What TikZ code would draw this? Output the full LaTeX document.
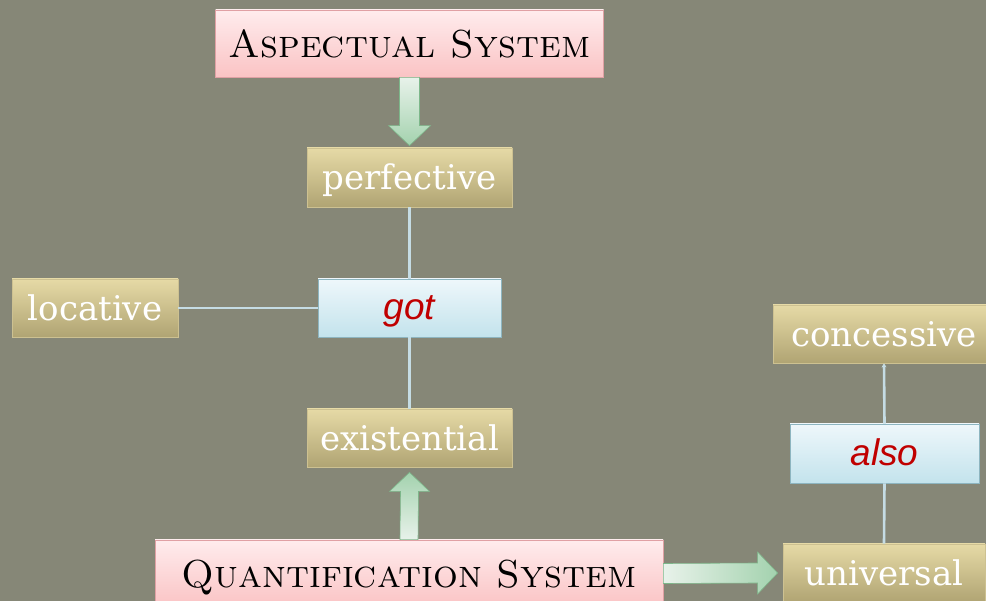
\documentclass[tikz,border=0pt]{standalone}
\usepackage{fontspec}
\usepackage{tikz}
\usetikzlibrary{arrows.meta,positioning,calc}
\newfontfamily\boxfont{DejaVu Serif}
\newfontfamily\keyfont{Liberation Sans}
\definecolor{bg}{RGB}{134,135,119}
\definecolor{pinktop}{RGB}{255,236,237}
\definecolor{pinkbot}{RGB}{250,195,196}
\definecolor{pinkedge}{RGB}{224,160,164}
\definecolor{tantop}{RGB}{230,218,166}
\definecolor{tanbot}{RGB}{176,164,115}
\definecolor{tanedge}{RGB}{205,193,145}
\definecolor{bluetop}{RGB}{238,247,251}
\definecolor{bluebot}{RGB}{195,227,236}
\definecolor{blueedge}{RGB}{141,181,192}
\definecolor{linkblue}{RGB}{197,220,228}
\definecolor{greenlight}{RGB}{232,242,234}
\definecolor{greendark}{RGB}{163,210,174}
\definecolor{greenedge}{RGB}{125,183,138}
\definecolor{keyred}{RGB}{192,0,0}

\tikzset{
  sysbox/.style={draw=pinkedge,line width=0.8pt,top color=pinktop,bottom color=pinkbot,
    font=\fontsize{39}{39}\selectfont,text=black,inner sep=0pt,minimum height=67,
    text height=30,text depth=2},
  catbox/.style={draw=tanedge,line width=0.8pt,top color=tantop,bottom color=tanbot,
    font=\boxfont\fontsize{34}{34}\selectfont,text=white,inner sep=0pt,minimum height=58,
    text height=28,text depth=3},
  keybox/.style={draw=blueedge,line width=0.8pt,top color=bluetop,bottom color=bluebot,
    font=\keyfont\itshape\fontsize{37}{37}\selectfont,text=keyred,inner sep=0pt,minimum height=58,
    text height=27,text depth=3},
  link/.style={draw=linkblue,line width=2.6pt},
  blockarrow/.style={draw=greenedge,line width=0.6pt}
}

\begin{document}
\begin{tikzpicture}[x=1pt,y=-1pt]
  \clip (0,0) rectangle (986,601);
  \fill[bg] (0,0) rectangle (986,601);

  % systems
  \node[sysbox,minimum width=388] (asp) at (409.5,43.5) {\textsc{Aspectual System}};
  \node[sysbox,minimum width=508] (quant) at (409,573.5) {\textsc{Quantification System}};

  % categories
  \node[catbox,minimum width=205,minimum height=59] (perf) at (409.5,177.5) {perfective};
  \node[catbox,minimum width=166] (loc) at (95,308) {locative};
  \node[catbox,minimum width=205] (exist) at (409.5,438) {existential};
  \node[catbox,minimum width=222] (conc) at (884,334) {concessive};
  \node[catbox,minimum width=202] (univ) at (884,573) {universal};

  % key words
  \node[keybox,minimum width=183] (got) at (409.5,308) {got};
  \node[keybox,minimum width=189,minimum height=59] (also) at (884.5,453.5) {also};

  % links
  \draw[link] (perf.south) -- (got.north);
  \draw[link] (got.south) -- (exist.north);
  \draw[link] (loc.east) -- (got.west);
  \draw[link] (univ.north) -- (also.south);
  \draw[link,-{Stealth[length=4pt,width=5pt]}] (also.north) -- (conc.south);

  % block arrows
  \path[blockarrow,top color=greenlight,bottom color=greendark]
    ($(asp.south)+(-10,0)$) -- ($(perf.north)+(-10,-22)$) -- ($(perf.north)+(-21,-22)$)
    -- ($(perf.north)+(0,-2)$) -- ($(perf.north)+(21,-22)$) -- ($(perf.north)+(10,-22)$)
    -- ($(asp.south)+(10,0)$) -- cycle;
  \path[blockarrow,bottom color=greenlight,top color=greendark]
    ($(quant.north)+(-9,0)$) -- ($(exist.south)+(-9,24)$) -- ($(exist.south)+(-20,24)$)
    -- ($(exist.south)+(0,5)$) -- ($(exist.south)+(20,24)$) -- ($(exist.south)+(9,24)$)
    -- ($(quant.north)+(9,0)$) -- cycle;
  \path[blockarrow,left color=greenlight,right color=greendark]
    ($(quant.east)+(0,-10)$) -- ($(univ.west)+(-25,-10)$) -- ($(univ.west)+(-25,-21)$)
    -- ($(univ.west)+(-5,0)$) -- ($(univ.west)+(-25,21)$) -- ($(univ.west)+(-25,10)$)
    -- ($(quant.east)+(0,10)$) -- cycle;
\end{tikzpicture}
\end{document}
